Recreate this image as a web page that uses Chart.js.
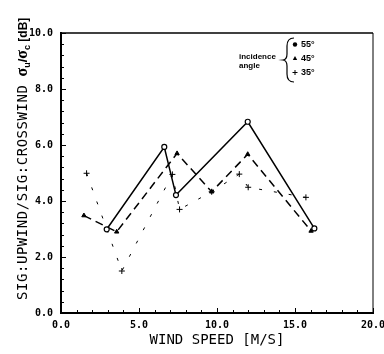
<!DOCTYPE html>
<html>
<head>
<meta charset="utf-8">
<script src="https://cdn.jsdelivr.net/npm/chart.js@4.4.1/dist/chart.umd.min.js"></script>
<style>
html, body { margin: 0; padding: 0; background: #fff; overflow: hidden; }
canvas { display: block; }
</style>
</head>
<body>
<canvas id="myChart" width="384" height="354"></canvas>
<script>
// wind speed [m/s] vs. upwind/crosswind ratio [dB], one pair of arrays per incidence angle
var speed55 = [2.93, 6.62, 7.37, 11.97, 16.24];
var ratio55 = [2.99, 5.93, 4.21, 6.83, 3.02];
var speed45 = [1.47, 3.57, 7.44, 9.66, 11.97, 16.03];
var ratio45 = [3.48, 2.90, 5.70, 4.33, 5.67, 2.93];
var speed35 = [1.64, 3.9, 7.14, 7.6, 9.66, 11.43, 12.0, 15.7];
var ratio35 = [4.99, 1.5, 4.95, 3.7, 4.33, 4.96, 4.49, 4.13];

var xTicks = [0, 5, 10, 15, 20];
var yTicks = [0, 2, 4, 6, 8, 10];
var angleLabels = ['55°', '45°', '35°'];

var mono = '"DejaVu Sans Mono", monospace';

function toPoints(xs, ys) {
    return xs.map(function(x, i) { return { x: x, y: ys[i] }; });
}

// box around the plot plus small inward tick marks
var frame = {
    id: 'frame',
    beforeDatasetsDraw: function(chart) {
        var ctx = chart.ctx, a = chart.chartArea;
        var xs = chart.scales.x, ys = chart.scales.y;
        ctx.save();
        ctx.strokeStyle = '#000';
        ctx.lineWidth = 1.5;
        ctx.beginPath();
        ctx.moveTo(a.left, a.top);
        ctx.lineTo(a.right, a.top);
        ctx.stroke();
        ctx.lineWidth = 1;
        ctx.beginPath();
        ctx.moveTo(a.right, a.top);
        ctx.lineTo(a.right, a.bottom);
        ctx.stroke();

        ctx.lineWidth = 1;
        ctx.beginPath();
        for (var v = 0; v <= 20; v += 1) {
            var px = Math.round(xs.getPixelForValue(v)) + 0.5;
            var len = v % 5 === 0 ? 5 : 3;
            ctx.moveTo(px, a.bottom);
            ctx.lineTo(px, a.bottom - len);
        }
        for (var i = 0; i <= 25; i++) {
            var py = Math.round(ys.getPixelForValue(i * 0.4)) + 0.5;
            var l2 = i % 5 === 0 ? 5 : 3;
            ctx.moveTo(a.left, py);
            ctx.lineTo(a.left + l2, py);
        }
        ctx.stroke();
        ctx.restore();
    },
    afterDraw: function(chart) {
        var ctx = chart.ctx;
        ctx.save();
        ctx.fillStyle = '#000';
        ctx.strokeStyle = '#000';

        // vertical axis title with subscripted sigma ratio
        ctx.translate(26.5, 300);
        ctx.rotate(-Math.PI / 2);
        ctx.textBaseline = 'alphabetic';
        ctx.textAlign = 'left';
        ctx.font = '14px ' + mono;
        ctx.letterSpacing = '0.55px';
        var t = 'SIG:UPWIND/SIG:CROSSWIND';
        ctx.fillText(t, 0, 0);
        var x = ctx.measureText(t).width + 8;
        ctx.letterSpacing = '0px';
        var parts = [
            ['σ', 'bold 16px "Liberation Serif"', 0],
            ['u', 'bold 9px "Liberation Sans"', 3],
            ['/', 'bold 13px "Liberation Sans"', 0],
            ['σ', 'bold 16px "Liberation Serif"', 0],
            ['c', 'bold 9px "Liberation Sans"', 3],
            [' [dB]', 'bold 12px "Liberation Sans"', 0]
        ];
        parts.forEach(function(p) {
            ctx.font = p[1];
            ctx.fillText(p[0], x, p[2]);
            x += ctx.measureText(p[0]).width;
        });
        ctx.restore();

        // incidence angle key
        ctx.save();
        ctx.fillStyle = '#000';
        ctx.strokeStyle = '#000';
        ctx.font = 'bold 8px "Liberation Sans"';
        ctx.textBaseline = 'middle';
        ctx.textAlign = 'left';
        ctx.fillText('incidence', 239, 57);
        ctx.fillText('angle', 239, 66);

        ctx.lineWidth = 1.2;
        ctx.beginPath();
        ctx.moveTo(294, 38);
        ctx.quadraticCurveTo(287, 38, 287, 46);
        ctx.lineTo(287, 54);
        ctx.quadraticCurveTo(287, 59.5, 283, 60);
        ctx.quadraticCurveTo(287, 60.5, 287, 66);
        ctx.lineTo(287, 74);
        ctx.quadraticCurveTo(287, 82, 294, 82);
        ctx.stroke();

        var rows = [44.5, 58.5, 72.5];
        // circle
        ctx.lineWidth = 1;
        ctx.beginPath();
        ctx.arc(295, rows[0], 2.2, 0, Math.PI * 2);
        ctx.fill();
        // triangle
        ctx.beginPath();
        ctx.moveTo(295, rows[1] - 2.4);
        ctx.lineTo(297.2, rows[1] + 1.6);
        ctx.lineTo(292.8, rows[1] + 1.6);
        ctx.closePath();
        ctx.fill();
        // plus
        ctx.beginPath();
        ctx.moveTo(292.5, rows[2]);
        ctx.lineTo(297.5, rows[2]);
        ctx.moveTo(295, rows[2] - 2.5);
        ctx.lineTo(295, rows[2] + 2.5);
        ctx.stroke();

        ctx.font = 'bold 9px "Liberation Sans"';
        angleLabels.forEach(function(lbl, i) {
            ctx.fillText(lbl, 301, rows[i]);
        });
        ctx.restore();
    }
};

var ctx = document.getElementById('myChart').getContext('2d');
var myChart = new Chart(ctx, {
    type: 'scatter',
    data: {
        datasets: [{
            label: angleLabels[2],
            data: toPoints(speed35, ratio35),
            showLine: true,
            borderColor: '#000',
            borderWidth: 1,
            borderDash: [3, 12],
            pointStyle: 'cross',
            pointRadius: 3,
            pointBorderWidth: 1,
            pointBorderColor: '#000',
            order: 3
        }, {
            label: angleLabels[1],
            data: toPoints(speed45, ratio45),
            showLine: true,
            borderColor: '#000',
            borderWidth: 1.5,
            borderDash: [8, 5],
            pointStyle: 'triangle',
            pointRadius: 2.5,
            pointBackgroundColor: '#000',
            pointBorderColor: '#000',
            pointBorderWidth: 1,
            order: 2
        }, {
            label: angleLabels[0],
            data: toPoints(speed55, ratio55),
            showLine: true,
            borderColor: '#000',
            borderWidth: 1.5,
            pointStyle: 'circle',
            pointRadius: 2.5,
            pointBackgroundColor: '#fff',
            pointBorderColor: '#000',
            pointBorderWidth: 1.2,
            order: 1
        }]
    },
    options: {
        responsive: false,
        animation: false,
        devicePixelRatio: 1,
        layout: { padding: { top: 33, right: 11, left: 0, bottom: 0 } },
        plugins: {
            legend: { display: false },
            tooltip: { enabled: false }
        },
        scales: {
            x: {
                type: 'linear',
                min: 0,
                max: 20,
                afterBuildTicks: function(s) {
                    s.ticks = xTicks.map(function(v) { return { value: v }; });
                },
                afterFit: function(s) {
                    s.height = 41;
                    s.paddingLeft = 0;
                    s.paddingRight = 0;
                },
                grid: { display: false, drawTicks: false },
                border: { display: true, color: '#000', width: 2 },
                ticks: {
                    maxRotation: 0,
                    padding: 6,
                    color: '#000',
                    font: { family: mono, size: 10, weight: 'bold' },
                    callback: function(v) { return v.toFixed(1); }
                },
                title: {
                    display: true,
                    text: 'WIND SPEED [M/S]',
                    color: '#000',
                    font: { family: mono, size: 14 },
                    padding: { top: 0, bottom: 5 }
                }
            },
            y: {
                type: 'linear',
                min: 0,
                max: 10,
                afterBuildTicks: function(s) {
                    s.ticks = yTicks.map(function(v) { return { value: v }; });
                },
                afterFit: function(s) {
                    s.width = 61;
                    s.paddingTop = 0;
                    s.paddingBottom = 0;
                },
                grid: { display: false, drawTicks: false },
                border: { display: true, color: '#000', width: 2 },
                ticks: {
                    padding: 8,
                    color: '#000',
                    font: { family: mono, size: 10, weight: 'bold' },
                    callback: function(v) { return v.toFixed(1); }
                }
            }
        }
    },
    plugins: [frame]
});
</script>
</body>
</html>
